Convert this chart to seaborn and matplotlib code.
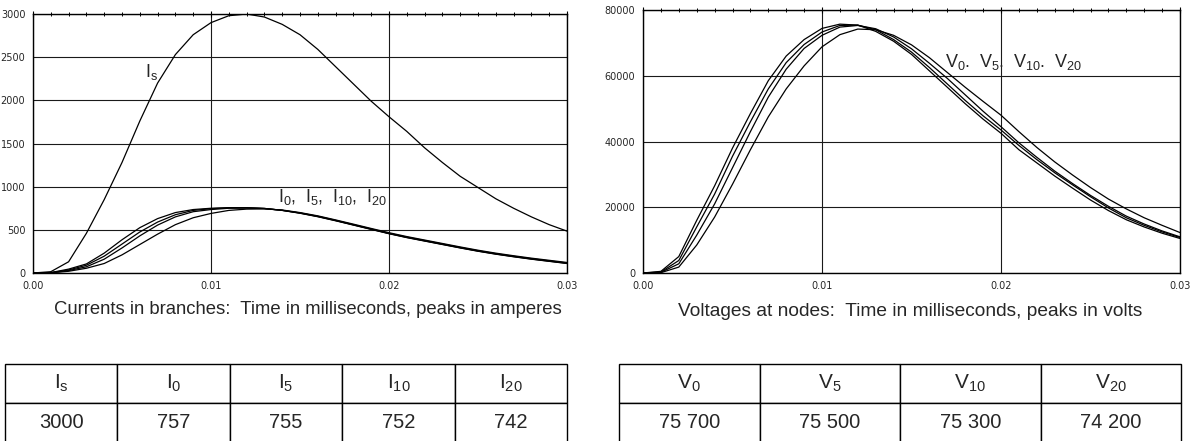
import matplotlib
matplotlib.use("Agg")
import matplotlib.pyplot as plt
import seaborn as sns
import pandas as pd
from matplotlib.ticker import MultipleLocator

# Time points (s), shared by all curves
TIME = [0.000, 0.001, 0.002, 0.003, 0.004, 0.005, 0.006, 0.007, 0.008, 0.009,
        0.010, 0.011, 0.012, 0.013, 0.014, 0.015, 0.016, 0.017, 0.018, 0.019,
        0.020, 0.021, 0.022, 0.023, 0.024, 0.025, 0.026, 0.027, 0.028, 0.029,
        0.030]

# Currents in branches (A)
I_S = [0, 15, 130, 460, 850, 1280, 1760, 2200, 2530, 2760,
       2900, 2980, 3000, 2965, 2880, 2760, 2590, 2390, 2190, 1990,
       1810, 1640, 1450, 1280, 1120, 990, 860, 750, 650, 560,
       485]
I_0 = [0, 5, 45, 105, 230, 385, 525, 630, 700, 735,
       750, 757, 757, 748, 725, 692, 652, 605, 555, 505,
       455, 410, 370, 330, 290, 252, 218, 188, 160, 135,
       110]
I_5 = [0, 4, 35, 90, 195, 335, 475, 590, 675, 725,
       745, 755, 755, 748, 726, 694, 654, 607, 557, 507,
       457, 412, 372, 332, 292, 254, 220, 190, 162, 137,
       112]
I_10 = [0, 3, 28, 72, 160, 290, 430, 555, 650, 710,
        735, 750, 752, 746, 726, 696, 657, 610, 560, 510,
        460, 416, 376, 336, 296, 258, 224, 194, 166, 141,
        116]
I_20 = [0, 2, 20, 55, 110, 210, 330, 450, 560, 640,
        690, 725, 740, 742, 730, 700, 662, 615, 566, 516,
        467, 422, 382, 342, 302, 264, 230, 200, 172, 147,
        122]

# Voltages at nodes (V)
V_0 = [0, 500, 5000, 16000, 26500, 38000, 48500, 58500, 66000, 71000,
       74400, 75700, 75400, 73500, 70500, 66500, 61500, 56500, 51500, 46800,
       42500, 37500, 33500, 29500, 25800, 22200, 19000, 16200, 14000, 12100,
       10500]
V_5 = [0, 300, 3800, 14000, 24000, 35500, 46000, 56000, 64000, 69500,
       73300, 75300, 75400, 74000, 71000, 67200, 62500, 57500, 52500, 47800,
       43500, 38800, 34500, 30500, 26800, 23200, 19800, 16800, 14500, 12500,
       10800]
V_10 = [0, 200, 2800, 11500, 21000, 32000, 43000, 53500, 62000, 68300,
        72300, 74800, 75300, 74300, 71800, 68200, 63800, 59200, 54200, 49200,
        44500, 39600, 35200, 31000, 27200, 23600, 20300, 17300, 14900, 12800,
        11000]
V_20 = [0, 100, 1800, 8500, 17000, 27000, 37500, 47500, 56000, 63000,
        68800, 72500, 74200, 74000, 72300, 69400, 65500, 61000, 56500, 52200,
        48000, 43000, 38200, 33800, 29800, 26000, 22500, 19500, 16800, 14500,
        12300]

X_TICKS = [0.00, 0.01, 0.02, 0.03]
X_LABELS = ["0.00", "0.01", "0.02", "0.03"]

CURRENT_HEADERS = [r"$\mathregular{I_s}$", r"$\mathregular{I_0}$", r"$\mathregular{I_5}$",
                   r"$\mathregular{I_{10}}$", r"$\mathregular{I_{20}}$"]
CURRENT_PEAKS = ["3000", "757", "755", "752", "742"]
VOLTAGE_HEADERS = [r"$\mathregular{V_0}$", r"$\mathregular{V_5}$",
                   r"$\mathregular{V_{10}}$", r"$\mathregular{V_{20}}$"]
VOLTAGE_PEAKS = ["75 700", "75 500", "75 300", "74 200"]

sns.set_theme(style="white")
plt.rcParams["font.family"] = ["Liberation Sans", "DejaVu Sans"]
plt.rcParams["axes.edgecolor"] = "black"

W, H = 1197, 441
fig = plt.figure(figsize=(W / 100, H / 100), dpi=100)
ax1 = fig.add_axes([33 / W, 1 - 273 / H, 534 / W, 259 / H])
ax2 = fig.add_axes([643 / W, 1 - 273 / H, 537 / W, 263 / H])

currents = pd.DataFrame({"t": TIME, "Is": I_S, "I0": I_0, "I5": I_5,
                         "I10": I_10, "I20": I_20})
currents = currents.melt(id_vars="t", var_name="branch", value_name="amps")
voltages = pd.DataFrame({"t": TIME, "V0": V_0, "V5": V_5, "V10": V_10, "V20": V_20})
voltages = voltages.melt(id_vars="t", var_name="node", value_name="volts")

sns.lineplot(data=currents, x="t", y="amps", hue="branch", palette=["black"] * 5,
             legend=False, linewidth=0.9, ax=ax1)
sns.lineplot(data=voltages, x="t", y="volts", hue="node", palette=["black"] * 4,
             legend=False, linewidth=0.9, ax=ax2)


def style_axes(ax, ymax, ystep, yminor):
    ax.set_xlim(0, 0.03)
    ax.set_ylim(0, ymax)
    ax.set_xticks(X_TICKS)
    ax.set_xticklabels(X_LABELS)
    ax.set_yticks(range(0, ymax + 1, ystep))
    ax.set_yticklabels([str(v) for v in range(0, ymax + 1, ystep)])
    ax.xaxis.set_minor_locator(MultipleLocator(0.001))
    ax.yaxis.set_minor_locator(MultipleLocator(yminor))
    ax.grid(True, which="major", color="#1a1a1a", linewidth=0.8)
    ax.tick_params(which="both", direction="inout", top=True, right=False,
                   color="black", labelsize=7, pad=3)
    ax.tick_params(which="major", length=5, width=0.8)
    ax.tick_params(which="minor", length=3, width=0.7)
    for s in ax.spines.values():
        s.set_linewidth(1.0)
        s.set_color("black")
    ax.set_xlabel("")
    ax.set_ylabel("")
    for lab in ax.get_xticklabels() + ax.get_yticklabels():
        lab.set_fontfamily("DejaVu Sans")


style_axes(ax1, 3000, 500, 100)
style_axes(ax2, 80000, 20000, 10000)

ax1.text(0.0063, 2330, r"$\mathregular{I_s}$", fontsize=13, ha="left", va="center")
ax1.text(0.01376, 880, r"$\mathregular{I_0,\ I_5,\ I_{10},\ I_{20}}$",
         fontsize=13, ha="left", va="center")
ax2.text(0.01686, 64300, r"$\mathregular{V_0.\ V_5.\ V_{10}.\ V_{20}}$",
         fontsize=13, ha="left", va="center")

fig.text(308 / W, 1 - 310 / H,
         "Currents in branches:  Time in milliseconds, peaks in amperes",
         ha="center", va="center", fontsize=13.3)
fig.text(910 / W, 1 - 311 / H,
         "Voltages at nodes:  Time in milliseconds, peaks in volts",
         ha="center", va="center", fontsize=13.8)


def draw_table(rect, headers, values):
    tax = fig.add_axes(rect)
    tax.axis("off")
    tbl = tax.table(cellText=[values], colLabels=headers, cellLoc="center",
                    bbox=[0, 0, 1, 1])
    tbl.auto_set_font_size(False)
    for (r, c), cell in tbl.get_celld().items():
        cell.set_linewidth(1.0)
        cell.set_edgecolor("black")
        cell.get_text().set_fontsize(15 if r == 0 else 14.5)


draw_table([5 / W, -1 / H, 562 / W, 78 / H], CURRENT_HEADERS, CURRENT_PEAKS)
draw_table([619 / W, -1 / H, 562 / W, 78 / H], VOLTAGE_HEADERS, VOLTAGE_PEAKS)

fig.savefig("out.png", dpi=100)
